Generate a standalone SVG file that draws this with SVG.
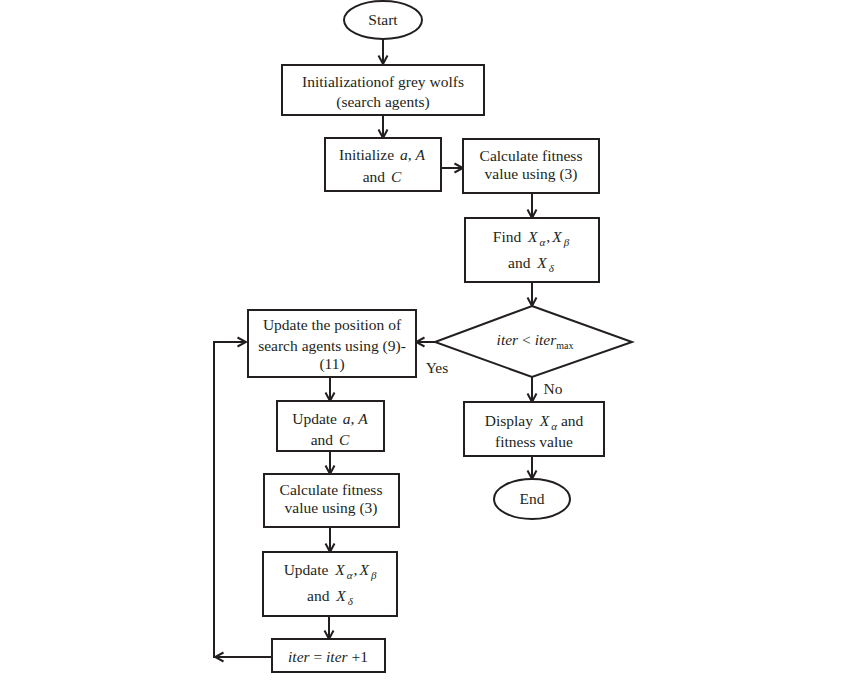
<svg xmlns="http://www.w3.org/2000/svg" width="850" height="682" viewBox="0 0 850 682">
<style>
.s{fill:#fff;stroke:#231f20;stroke-width:2}
.c{fill:none;stroke:#231f20;stroke-width:2}
.t{font-family:"Liberation Serif","Times New Roman",serif;font-size:15.5px;fill:#231f20;text-anchor:middle}
.m{font-style:italic}
.sub{font-style:italic;font-size:11px}
.sm{font-size:10px}
</style>
<defs>
<marker id="ah" viewBox="0 0 12 12" refX="10.5" refY="6" markerWidth="12" markerHeight="12" markerUnits="userSpaceOnUse" orient="auto">
<path d="M2,1.5 L10.5,6 L2,10.5" fill="none" stroke="#231f20" stroke-width="2"/>
</marker>
</defs>
<rect width="850" height="682" fill="#fff"/>
<g id="connectors">
<path class="c" d="M383,39 V64" marker-end="url(#ah)"/>
<path class="c" d="M383,115 V138" marker-end="url(#ah)"/>
<path class="c" d="M441,168 H463" marker-end="url(#ah)"/>
<path class="c" d="M532,193 V218" marker-end="url(#ah)"/>
<path class="c" d="M532,282 V306" marker-end="url(#ah)"/>
<path class="c" d="M435,342 H416" marker-end="url(#ah)"/>
<path class="c" d="M532,377 V402" marker-end="url(#ah)"/>
<path class="c" d="M532,456 V479" marker-end="url(#ah)"/>
<path class="c" d="M330,377 V401" marker-end="url(#ah)"/>
<path class="c" d="M330,451 V474" marker-end="url(#ah)"/>
<path class="c" d="M330,527 V552" marker-end="url(#ah)"/>
<path class="c" d="M329,616 V639" marker-end="url(#ah)"/>
<path class="c" d="M272,657 H215" marker-end="url(#ah)"/>
<path class="c" d="M214,658 V342 H246" marker-end="url(#ah)"/>
<text class="t" x="437" y="373">Yes</text>
<text class="t" x="553" y="394">No</text>
</g>
<g id="start">
<ellipse class="s" cx="383" cy="20" rx="39" ry="19"/>
<text class="t" x="383" y="25">Start</text>
</g>
<g id="init">
<rect class="s" x="282" y="65" width="202" height="50"/>
<text class="t" x="383" y="87">Initializationof grey wolfs</text>
<text class="t" x="383" y="107">(search agents)</text>
</g>
<g id="initparams">
<rect class="s" x="325" y="138" width="116" height="53"/>
<text class="t" x="382" y="160">Initialize <tspan class="m" dx="2">a</tspan>, <tspan class="m">A</tspan></text>
<text class="t" x="382" y="182">and <tspan class="m" dx="2">C</tspan></text>
</g>
<g id="calc1">
<rect class="s" x="463" y="139" width="136" height="54"/>
<text class="t" x="531" y="161">Calculate fitness</text>
<text class="t" x="531" y="179">value using (3)</text>
</g>
<g id="find">
<rect class="s" x="465" y="218" width="134" height="64"/>
<text class="t" x="531" y="242">Find <tspan class="m" dx="3">X</tspan><tspan class="sub" dx="2" dy="4">α</tspan><tspan dx="1" dy="-4">,</tspan><tspan class="m" dx="2">X</tspan><tspan class="sub" dx="2" dy="4">β</tspan></text>
<text class="t" x="531" y="268">and <tspan class="m" dx="3">X</tspan><tspan class="sub" dx="2" dy="4">δ</tspan></text>
</g>
<g id="decision">
<polygon class="s" points="532,306 632,342 532,377 435,342"/>
<text class="t" x="535" y="345"><tspan class="m">iter</tspan> &lt; <tspan class="m">iter</tspan><tspan class="sm" dy="4">max</tspan></text>
</g>
<g id="updatepos">
<rect class="s" x="248" y="310" width="168" height="67"/>
<text class="t" x="332" y="330">Update the position of</text>
<text class="t" x="332" y="351">search agents using (9)-</text>
<text class="t" x="332" y="369">(11)</text>
</g>
<g id="display">
<rect class="s" x="464" y="402" width="140" height="54"/>
<text class="t" x="534" y="426">Display <tspan class="m" dx="3">X</tspan><tspan class="sub" dx="2" dy="4">α</tspan><tspan dy="-4"> and</tspan></text>
<text class="t" x="534" y="447">fitness value</text>
</g>
<g id="end">
<ellipse class="s" cx="532" cy="499" rx="38" ry="20"/>
<text class="t" x="532" y="504">End</text>
</g>
<g id="updateparams">
<rect class="s" x="277" y="401" width="107" height="50"/>
<text class="t" x="330" y="424">Update <tspan class="m" dx="2">a</tspan>, <tspan class="m">A</tspan></text>
<text class="t" x="330" y="445">and <tspan class="m" dx="2">C</tspan></text>
</g>
<g id="calc2">
<rect class="s" x="264" y="474" width="135" height="53"/>
<text class="t" x="331" y="495">Calculate fitness</text>
<text class="t" x="331" y="513">value using (3)</text>
</g>
<g id="updatex">
<rect class="s" x="263" y="552" width="134" height="64"/>
<text class="t" x="330" y="575">Update <tspan class="m" dx="3">X</tspan><tspan class="sub" dx="2" dy="4">α</tspan><tspan dx="1" dy="-4">,</tspan><tspan class="m" dx="2">X</tspan><tspan class="sub" dx="2" dy="4">β</tspan></text>
<text class="t" x="330" y="601">and <tspan class="m" dx="3">X</tspan><tspan class="sub" dx="2" dy="4">δ</tspan></text>
</g>
<g id="iterinc">
<rect class="s" x="272" y="639" width="113" height="33"/>
<text class="t" x="328" y="662"><tspan class="m">iter</tspan> = <tspan class="m">iter</tspan> +1</text>
</g>
</svg>
